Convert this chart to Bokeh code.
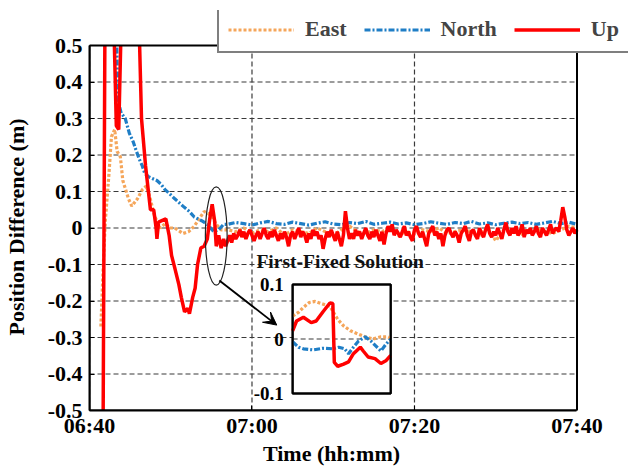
import numpy as np
from bokeh.plotting import figure
from bokeh.models import (FixedTicker, Range1d, Legend, LegendItem, Arrow, VeeHead)
from bokeh.core.properties import value
from bokeh.embed import file_html
from bokeh.resources import INLINE

# ------------------------------------------------------------------ data
x_ticks = [0, 20, 40, 60]                      # minutes after 06:40
x_tick_labels = ["06:40", "07:00", "07:20", "07:40"]
y_ticks = [-0.5, -0.4, -0.3, -0.2, -0.1, 0.0, 0.1, 0.2, 0.3, 0.4, 0.5]
y_tick_labels = ["-0.5", "-0.4", "-0.3", "-0.2", "-0.1", "0",
                 "0.1", "0.2", "0.3", "0.4", "0.5"]
series_names = ["East", "North", "Up"]

# East: early convergence (minutes, metres)
east_early_t = [1.4, 1.7, 1.95, 2.4, 2.7, 3.1, 3.4, 3.8, 4.1, 4.8, 5.2, 5.9, 6.5,
                7.0, 7.4, 8.0, 8.7, 9.3, 9.9, 10.5, 11.5, 12.2, 12.9, 13.5, 14.1,
                14.6, 15.1, 15.6, 16.2]
east_early_v = [-0.27, -0.10, 0.02, 0.15, 0.25, 0.27, 0.21, 0.195, 0.13, 0.08, 0.06,
                0.08, 0.105, 0.115, 0.087, 0.033, 0.0, 0.012, 0.0, 0.0, -0.015, -0.01,
                0.005, 0.025, 0.045, 0.04, 0.03, 0.01, -0.005]
# East after convergence, one value per minute from 17 min
east_late_v = [-0.005, -0.01, 0.0, -0.015, -0.005, -0.01, 0.0, -0.02, -0.005, -0.01,
               -0.015, 0.0, -0.01, -0.02, -0.005, 0.005, -0.01, -0.015, -0.005, -0.01,
               0.0, -0.02, -0.01, -0.015, -0.005, -0.01, 0.0, -0.015, -0.01, -0.005,
               -0.01, -0.02, 0.0, -0.035, -0.005, -0.01, -0.02, -0.005, 0.0, -0.01,
               -0.015, -0.005, 0.005, 0.0]

# North (first value is off the top of the scale)
north_early_t = [3.3, 3.5, 3.9, 4.4, 4.9, 5.4, 5.7, 6.1, 6.5, 6.8, 7.3, 7.8, 8.3, 8.8,
                 9.3, 9.8, 10.5, 11.5, 12.3, 12.9, 13.8, 14.5, 15.3, 15.9, 16.5]
north_early_v = [0.56, 0.35, 0.315, 0.30, 0.26, 0.235, 0.215, 0.19, 0.17, 0.15, 0.14,
                 0.135, 0.13, 0.12, 0.105, 0.095, 0.08, 0.06, 0.045, 0.03, 0.02, 0.01,
                 -0.01, -0.005, 0.01]
north_late_v = [0.01, 0.015, 0.012, 0.008, 0.014, 0.018, 0.012, 0.01, 0.016, 0.012,
                0.008, 0.013, 0.017, 0.011, 0.009, 0.015, 0.012, 0.018, 0.01, 0.013,
                0.016, 0.011, 0.014, 0.009, 0.012, 0.017, 0.013, 0.01, 0.015, 0.012,
                0.018, 0.011, 0.014, 0.009, 0.013, 0.016, 0.012, 0.015, 0.01, 0.014,
                0.018, 0.012, 0.016, 0.01]

# Up (values of +/-0.56..0.9 are off the scale)
up_early_t = [1.6, 1.9, 3.0, 3.3, 3.6, 3.9, 6.1, 6.4, 6.9, 7.2, 7.5, 7.9, 8.2, 8.3, 8.5,
              8.9, 9.4, 9.8, 10.1, 10.5, 11.0, 11.3, 11.7, 12.1, 12.3, 12.7, 13.0, 13.3,
              13.7, 14.1, 14.5, 14.8, 15.1, 15.4, 15.6, 15.9, 16.2]
up_early_v = [-0.9, 0.56, 0.56, 0.28, 0.27, 0.56, 0.56, 0.30, 0.17, 0.11, 0.05, 0.05, 0.0,
              -0.03, 0.016, 0.02, 0.025, -0.02, -0.075, -0.11, -0.155, -0.19, -0.23,
              -0.22, -0.235, -0.19, -0.165, -0.10, -0.055, -0.05, -0.03, 0.025, 0.065,
              0.02, -0.05, -0.02, -0.055]
# Up after convergence, one value per quarter minute from 16.5 min
up_late_v = [
    -0.03, -0.05, -0.035, -0.02, -0.04, -0.015, -0.03, -0.02,
    -0.005, -0.025, -0.01, -0.03, -0.015, -0.005, -0.02, -0.035,
    -0.02, -0.01, -0.03, -0.015, 0.0, -0.02, -0.03, -0.01,
    -0.025, -0.005, -0.02, -0.035, -0.015, -0.03, -0.01, -0.025,
    -0.05, -0.02, -0.01, -0.03, -0.015, 0.0, -0.025, -0.01,
    -0.02, -0.04, -0.015, -0.03, -0.005, -0.02, -0.01, -0.03,
    -0.02, -0.057, -0.03, -0.01, -0.025, -0.005, -0.02, -0.035,
    -0.01, -0.03, -0.05, -0.02, 0.046, 0.0, -0.03, -0.015,
    -0.03, -0.005, -0.02, -0.01, -0.03, -0.015, 0.0, -0.02,
    -0.03, -0.01, -0.025, -0.005, -0.02, -0.035, -0.01, -0.045,
    -0.015, 0.005, -0.01, 0.01, -0.02, -0.005, -0.015, -0.025,
    -0.01, 0.005, -0.02, -0.01, -0.025, -0.035, -0.005, 0.005,
    -0.015, -0.025, -0.01, -0.03, -0.05, -0.015, -0.005, 0.005,
    -0.02, -0.01, -0.03, -0.015, -0.05, -0.02, -0.005, 0.0,
    -0.015, -0.025, -0.01, -0.02, -0.04, -0.015, -0.005, 0.005,
    -0.02, -0.035, -0.01, -0.005, -0.02, -0.03, 0.0, -0.015,
    -0.025, -0.005, 0.01, -0.015, -0.025, -0.01, -0.02, 0.0,
    -0.015, -0.03, -0.005, 0.015, -0.01, -0.02, 0.0, -0.015,
    0.005, -0.02, -0.01, 0.01, -0.025, -0.005, -0.015, 0.0,
    -0.02, -0.01, 0.005, -0.015, -0.025, 0.0, -0.01, -0.02,
    -0.005, 0.01, -0.015, -0.005, 0.0, -0.01, 0.02, 0.057,
    0.03, -0.005, -0.02, -0.01, 0.0, -0.015, -0.005]

# Inset (first fixed solution), position along the inset window 0..1
inset_east_u = [0, 0.06, 0.11, 0.17, 0.23, 0.31, 0.38, 0.46, 0.52, 0.59, 0.67, 0.74,
                0.82, 0.90, 0.97, 1.0]
inset_east_v = [0.042, 0.049, 0.058, 0.067, 0.069, 0.064, 0.06, 0.036, 0.024, 0.015,
                0.009, 0.004, 0.0, 0.004, 0.004, 0.002]
inset_north_u = [0, 0.06, 0.11, 0.21, 0.31, 0.41, 0.47, 0.53, 0.57, 0.62, 0.67, 0.74,
                 0.80, 0.85, 0.90, 0.95, 1.0]
inset_north_v = [-0.005, -0.015, -0.018, -0.02, -0.017, -0.018, -0.015, -0.018, -0.027,
                 -0.015, -0.004, 0.004, -0.004, -0.013, -0.022, -0.01, 0.0]
inset_up_u = [0, 0.04, 0.11, 0.19, 0.24, 0.31, 0.38, 0.41, 0.425, 0.46, 0.52, 0.57,
              0.62, 0.69, 0.72, 0.77, 0.84, 0.90, 0.95, 1.0]
inset_up_v = [0.015, 0.033, 0.04, 0.03, 0.033, 0.05, 0.066, 0.065, -0.043, -0.05,
              -0.046, -0.042, -0.027, -0.015, -0.022, -0.033, -0.036, -0.045, -0.04,
              -0.03]
inset_ticks = [0.1, 0.0, -0.1]
inset_tick_labels = ["0.1", "0", "-0.1"]
annotation_text = "First-Fixed Solution"

# ------------------------------------------------------------------ build series
east_t = east_early_t + [17.0 + i for i in range(len(east_late_v))]
east_v = east_early_v + east_late_v
north_t = north_early_t + [17.0 + i for i in range(len(north_late_v))]
north_v = north_early_v + north_late_v
up_t = up_early_t + [16.5 + 0.25 * i for i in range(len(up_late_v))]
up_v = up_early_v + up_late_v

# ------------------------------------------------------------------ layout
W, H = 628, 473
# canvas frame (holds the legend box too)
BL, BR, BT, BB = 84, 0, 10, 63
# pixel position of the axes box inside the canvas
AX_L, AX_R, AX_T, AX_B = 84, 576, 45, H - BB
X0, X1 = x_ticks[0], x_ticks[-1]
Y0, Y1 = y_ticks[0], y_ticks[-1]
px_x = (AX_R - AX_L) / (X1 - X0)
px_y = (AX_B - AX_T) / (Y1 - Y0)
x_end = X1 + (W - BR - AX_R) / px_x
y_end = Y1 + (AX_T - BT) / px_y

FONT = "Liberation Serif"
C_EAST, C_NORTH, C_UP = "#F5A65B", "#1F7EC6", "#FF0000"
GRID = "#3a3a3a"

p = figure(width=W, height=H, x_range=Range1d(X0, x_end), y_range=Range1d(Y0, y_end),
           output_backend="svg", toolbar_location=None,
           min_border_left=BL, min_border_right=BR, min_border_top=BT,
           min_border_bottom=BB)
p.background_fill_color = "white"
p.border_fill_color = "white"
p.outline_line_color = None
p.xgrid.grid_line_color = None
p.ygrid.grid_line_color = None

NB = "\u00a0"
for ax in (p.xaxis[0], p.yaxis[0]):
    ax.major_label_text_font = FONT
    ax.major_label_text_font_style = "bold"
    ax.major_label_text_font_size = "22px"
    ax.major_label_text_color = "black"
    ax.axis_label_text_font = FONT
    ax.axis_label_text_font_style = "bold"
    ax.axis_label_text_font_size = "22px"
    ax.axis_label_text_color = "black"
    ax.axis_line_color = "black"
    ax.axis_line_width = 2
    ax.major_tick_in = 5
    ax.major_tick_out = 0
    ax.minor_tick_line_color = None
    ax.major_tick_line_color = "black"

p.xaxis.bounds = (X0, X1)
p.yaxis.bounds = (Y0, Y1)
p.xaxis.ticker = FixedTicker(ticks=x_ticks)
p.xaxis.major_label_overrides = {t: l for t, l in zip(x_ticks, x_tick_labels)}
p.yaxis.ticker = FixedTicker(ticks=y_ticks)
p.yaxis.major_label_overrides = {t: l for t, l in zip(y_ticks, y_tick_labels)}
# trailing no-break spaces re-centre the labels on the axes box
p.xaxis.axis_label = "Time (hh:mm)" + NB * 10
p.yaxis.axis_label = "Position Difference (m)" + NB * 6
p.xaxis.major_label_standoff = 2
p.xaxis.axis_label_standoff = 0
p.yaxis.major_label_standoff = 7
p.yaxis.axis_label_standoff = 16

# grid (dashed) limited to the axes box
p.segment(x0=[X0] * len(y_ticks), x1=[X1] * len(y_ticks), y0=y_ticks, y1=y_ticks,
          line_color=GRID, line_width=1.2, line_dash="5 3")
p.segment(x0=x_ticks, x1=x_ticks, y0=[Y0] * len(x_ticks), y1=[Y1] * len(x_ticks),
          line_color=GRID, line_width=1.2, line_dash="5 3")

# main series
r_e = p.line(east_t, east_v, line_color=C_EAST, line_width=3.2, line_dash="3 2")
r_n = p.line(north_t, north_v, line_color=C_NORTH, line_width=3.2, line_dash="6 2 2 2")
r_u = p.line(up_t, up_v, line_color=C_UP, line_width=3.5)

# white mask above the axes box (hides off-scale parts of the series)
p.quad(left=[X0 - 1], right=[x_end + 1], bottom=[Y1], top=[y_end + 1],
       fill_color="white", line_color=None)
# axes box
p.quad(left=[X0], right=[X1], bottom=[Y0], top=[Y1], fill_color=None,
       line_color="black", line_width=2)

# ellipse marking the first fixed solution and arrow to inset
p.ellipse(x=[15.6], y=[-0.022], width=[2.68], height=[0.269], fill_color=None,
          line_color="#222222", line_width=1.2)
p.add_layout(Arrow(x_start=15.98, y_start=-0.144, x_end=23.05, y_end=-0.266,
                   line_color="black", line_width=1.8,
                   end=VeeHead(size=13, fill_color="black", line_color="black")))
p.text(x=[20.55], y=[-0.092], text=[annotation_text], text_font=value(FONT),
       text_font_style="bold", text_font_size="19.5px", text_baseline="middle",
       text_align="left", text_color="#111111")

# inset drawn through its own ranges mapped onto a sub-box of the frame
FR_L, FR_R, FR_T, FR_B = BL, W - BR, BT, H - BB
IX0, IX1 = 289, 388          # inset box, screen px
IY_TOP, IY_BOT = 284, 393    # screen px of +0.1 / -0.1
sx = (IX1 - IX0)
sy = (IY_BOT - IY_TOP) / 0.2
p.extra_x_ranges = {"ix": Range1d(-(IX0 - FR_L) / sx, 1 + (FR_R - IX1) / sx)}
p.extra_y_ranges = {"iy": Range1d(-0.1 - (FR_B - IY_BOT) / sy,
                                  0.1 + (IY_TOP - FR_T) / sy)}
kw = dict(x_range_name="ix", y_range_name="iy")
p.quad(left=[0], right=[1], bottom=[-0.1], top=[0.1], fill_color="white",
       line_color="black", line_width=2, **kw)
p.line([0, 1], [0, 0], line_color=GRID, line_width=1.2, line_dash="5 3", **kw)
p.line(inset_east_u, inset_east_v, line_color=C_EAST, line_width=3.2, line_dash="3 2", **kw)
p.line(inset_north_u, inset_north_v, line_color=C_NORTH, line_width=3.2,
       line_dash="6 2 2 2", **kw)
p.line(inset_up_u, inset_up_v, line_color=C_UP, line_width=3.5, **kw)
p.text(x=[-0.09] * len(inset_ticks), y=inset_ticks, text=inset_tick_labels,
       text_font=value(FONT), text_font_style="bold", text_font_size="19px",
       text_align="right", text_baseline="middle", text_color="black", **kw)
p.quad(left=[0], right=[1], bottom=[-0.1], top=[0.1], fill_color=None,
       line_color="black", line_width=2, **kw)

legend = Legend(items=[LegendItem(label=n, renderers=[r]) for n, r in
                       zip(series_names, [r_e, r_n, r_u])],
                orientation="horizontal", location=(128, FR_B - 53),
                border_line_color="black", border_line_width=2,
                background_fill_color="white", background_fill_alpha=1.0,
                label_text_font=FONT, label_text_font_style="bold",
                label_text_font_size="22px", label_height=23, glyph_height=23,
                glyph_width=66, label_standoff=11, spacing=17, padding=9, margin=0)
p.add_layout(legend)

open("out.html", "w").write(file_html(p, INLINE))
